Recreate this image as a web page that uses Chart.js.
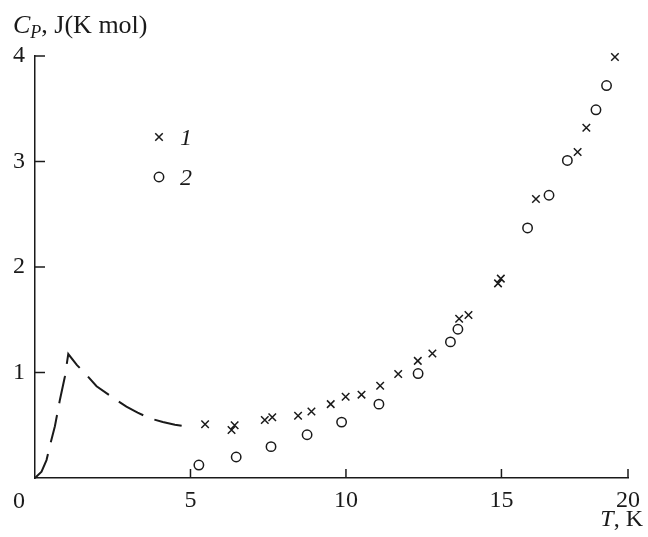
<!DOCTYPE html>
<html>
<head>
<meta charset="utf-8">
<script src="https://cdn.jsdelivr.net/npm/chart.js@4.4.1/dist/chart.umd.min.js"></script>
<style>
  body { margin: 0; background: #fff; }
  canvas { display: block; }
</style>
</head>
<body>
<canvas id="cp" width="648" height="537"></canvas>
<script>
// --- Data ---
// dashed curve (low temperature anomaly)
const curveT = [0, 0.21, 0.37, 0.50, 0.64, 0.80, 0.96, 1.07, 1.35, 1.63, 1.98, 2.56, 2.94, 3.30, 3.69, 4.11, 4.50, 4.89];
const curveCp = [0, 0.06, 0.17, 0.33, 0.49, 0.74, 0.96, 1.175, 1.07, 0.986, 0.87, 0.75, 0.676, 0.62, 0.566, 0.53, 0.505, 0.486];

// series 1 (crosses)
const s1T = [5.47, 6.32, 6.42, 7.39, 7.63, 8.46, 8.89, 9.51, 9.99, 10.50, 11.10, 11.68, 12.31, 12.78, 13.64, 13.94, 14.89, 14.98, 16.11, 17.45, 17.73, 18.65];
const s1Cp = [0.51, 0.455, 0.50, 0.55, 0.575, 0.59, 0.63, 0.70, 0.77, 0.79, 0.875, 0.986, 1.11, 1.18, 1.51, 1.545, 1.845, 1.89, 2.645, 3.09, 3.32, 3.99];

// series 2 (circles)
const s2T = [5.27, 6.47, 7.59, 8.75, 9.86, 11.06, 12.32, 13.36, 13.60, 15.84, 16.53, 17.12, 18.04, 18.38];
const s2Cp = [0.123, 0.199, 0.297, 0.41, 0.53, 0.70, 0.99, 1.29, 1.41, 2.37, 2.68, 3.01, 3.49, 3.72];

const seriesNames = ['1', '2'];
const yTicks = [0, 1, 2, 3, 4];
const xTickLabels = ['0', '5', '10', '15', '20'];
// the original draws its "20" tick at the end of the axis, short of the even spacing
const xTickValues = [0, 5, 10, 15, 19.07];

const ink = '#1a1a1a';
const serif = '"Liberation Serif", "DejaVu Serif", serif';

const toPts = (xs, ys) => xs.map((x, i) => ({ x: x, y: ys[i] }));

// --- extra drawing: inward ticks, axis titles, legend, origin label ---
const decorations = {
  id: 'decorations',
  afterDraw(chart) {
    const { ctx, chartArea: area, scales } = chart;
    const xs = scales.x, ys = scales.y;
    ctx.save();
    ctx.strokeStyle = ink;
    ctx.lineWidth = 1.5;

    // inward tick marks
    xTickValues.slice(1).forEach(v => {
      const px = xs.getPixelForValue(v);
      ctx.beginPath();
      ctx.moveTo(px, area.bottom);
      ctx.lineTo(px, area.bottom - 9);
      ctx.stroke();
    });
    yTicks.slice(1).forEach(v => {
      const py = ys.getPixelForValue(v);
      ctx.beginPath();
      ctx.moveTo(area.left, py);
      ctx.lineTo(area.left + 10, py);
      ctx.stroke();
    });

    ctx.fillStyle = ink;
    ctx.textBaseline = 'alphabetic';

    // origin label
    ctx.font = '24px ' + serif;
    ctx.textAlign = 'center';
    ctx.fillText('0', 19, 508);

    // y title: C_P, J(K mol)
    ctx.textAlign = 'left';
    let x = 13;
    ctx.font = 'italic 26px ' + serif;
    ctx.fillText('C', x, 33);
    x += ctx.measureText('C').width;
    ctx.font = 'italic 18px ' + serif;
    ctx.fillText('P', x, 38);
    x += ctx.measureText('P').width;
    ctx.font = '26px ' + serif;
    ctx.fillText(', J(K mol)', x, 33);

    // x title: T, K
    ctx.textAlign = 'right';
    ctx.font = '24px ' + serif;
    const tail = ', K';
    const tailW = ctx.measureText(tail).width;
    ctx.fillText(tail, 643, 526);
    ctx.font = 'italic 24px ' + serif;
    ctx.fillText('T', 643 - tailW, 526);

    // legend
    const legendRows = [137, 177];
    chart.data.datasets.slice(1).forEach((ds, i) => {
      const cy = legendRows[i];
      ctx.strokeStyle = ds.borderColor;
      ctx.fillStyle = ds.backgroundColor;
      ctx.lineWidth = ds.borderWidth;
      Chart.helpers.drawPoint(ctx, {
        pointStyle: ds.pointStyle,
        radius: ds.pointRadius,
        borderWidth: ds.borderWidth,
        rotation: 0
      }, 159, cy);
      ctx.fillStyle = ink;
      ctx.textAlign = 'left';
      ctx.font = 'italic 24px ' + serif;
      ctx.fillText(seriesNames[i], 180, cy + 8);
    });
    ctx.restore();
  }
};

new Chart(document.getElementById('cp'), {
  type: 'scatter',
  data: {
    datasets: [
      {
        label: 'curve',
        data: toPts(curveT, curveCp),
        showLine: true,
        borderColor: ink,
        borderWidth: 2,
        borderDash: [28, 12],
        pointRadius: 0,
        tension: 0,
        fill: false
      },
      {
        label: seriesNames[0],
        data: toPts(s1T, s1Cp),
        pointStyle: 'crossRot',
        pointRadius: 5.3,
        borderColor: ink,
        backgroundColor: ink,
        borderWidth: 1.5
      },
      {
        label: seriesNames[1],
        data: toPts(s2T, s2Cp),
        pointStyle: 'circle',
        pointRadius: 4.7,
        borderColor: ink,
        backgroundColor: 'rgba(0,0,0,0)',
        borderWidth: 1.5
      }
    ]
  },
  options: {
    responsive: false,
    animation: false,
    clip: false,
    layout: { padding: { top: 56, right: 18, left: 0, bottom: 0 } },
    plugins: {
      legend: { display: false },
      tooltip: { enabled: false }
    },
    scales: {
      x: {
        type: 'linear',
        min: xTickValues[0],
        max: xTickValues[xTickValues.length - 1],
        afterBuildTicks: s => { s.ticks = xTickValues.map(v => ({ value: v })); },
        afterFit: s => { s.height = 59; },
        grid: { display: false, drawTicks: false },
        border: { display: true, color: ink, width: 1.5 },
        ticks: {
          padding: 8,
          color: ink,
          font: { family: serif, size: 24 },
          maxRotation: 0,
          autoSkip: false,
          callback: (v, i) => (i === 0 ? '' : xTickLabels[i])
        }
      },
      y: {
        type: 'linear',
        min: yTicks[0],
        max: yTicks[yTicks.length - 1],
        afterBuildTicks: s => { s.ticks = yTicks.map(v => ({ value: v })); },
        afterFit: s => { s.width = 35; },
        grid: { display: false, drawTicks: false },
        border: { display: true, color: ink, width: 1.5 },
        ticks: {
          padding: 10,
          color: ink,
          font: { family: serif, size: 24 },
          callback: v => (v === 0 ? '' : String(v))
        }
      }
    }
  },
  plugins: [decorations]
});
</script>
</body>
</html>
